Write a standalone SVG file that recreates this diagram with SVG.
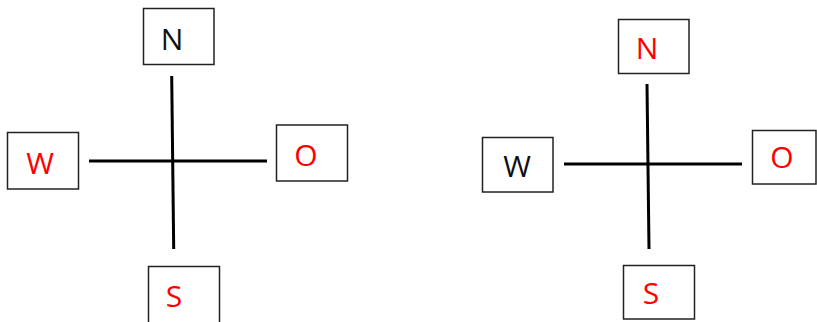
<svg xmlns="http://www.w3.org/2000/svg" width="817" height="322" viewBox="0 0 817 322">
<style>
.box{fill:#fff;stroke:#222;stroke-width:1.5}
.lbl{font-family:"Open Sans","Liberation Sans",Arial,sans-serif;font-size:30px;text-anchor:middle}
.k{fill:#111}
.r{fill:#ff0000}
.ax{stroke:#000;stroke-width:3;fill:none}
</style>
<rect width="817" height="322" fill="#fff"/>
<g id="connectors">
<line class="ax" x1="171.7" y1="76" x2="173.7" y2="249"/>
<line class="ax" x1="89" y1="161" x2="267" y2="161"/>
<line class="ax" x1="647" y1="84" x2="649" y2="249"/>
<line class="ax" x1="564" y1="164" x2="742" y2="164"/>
</g>
<g id="left-N"><rect class="box" x="143.5" y="8.5" width="70.5" height="56"/><text class="lbl k" x="172" y="50">N</text></g>
<g id="left-W"><rect class="box" x="7.5" y="132.5" width="71" height="56.5"/><text class="lbl r" x="40" y="174">W</text></g>
<g id="left-O"><rect class="box" x="276.5" y="125" width="71" height="56"/><text class="lbl r" x="306" y="166">O</text></g>
<g id="left-S"><rect class="box" x="148.5" y="266.5" width="71" height="60"/><text class="lbl r" x="174" y="307">S</text></g>
<g id="right-N"><rect class="box" x="618.5" y="19.5" width="70.5" height="54"/><text class="lbl r" x="647" y="59">N</text></g>
<g id="right-W"><rect class="box" x="482.5" y="137.5" width="70.5" height="54.5"/><text class="lbl k" x="517" y="177">W</text></g>
<g id="right-O"><rect class="box" x="752.5" y="130.5" width="63.5" height="53.5"/><text class="lbl r" x="782" y="168">O</text></g>
<g id="right-S"><rect class="box" x="623.5" y="265.5" width="71" height="53.5"/><text class="lbl r" x="651" y="304">S</text></g>
</svg>
